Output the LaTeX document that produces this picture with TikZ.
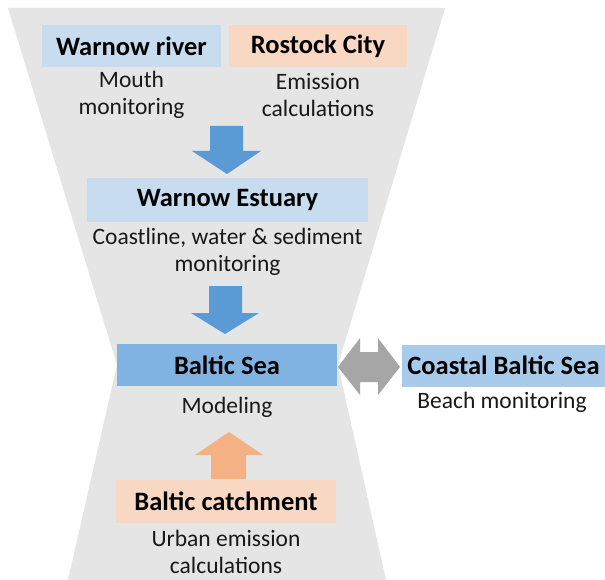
\documentclass[tikz,border=0pt]{standalone}
\usepackage{fontspec}
\setmainfont{Carlito}
\begin{document}
\begin{tikzpicture}[x=1pt,y=-1pt,
  box/.style={rectangle, inner sep=0pt, minimum height=42pt, text=black,
    font=\fontsize{26.5}{30}\selectfont\bfseries},
  note/.style={align=center, inner sep=0pt, text=black!90,
    font=\fontsize{23.5}{27.5}\selectfont},
  blockblue/.style={fill=arrowblue},
  blockorange/.style={fill=arroworange},
  blockgray/.style={fill=arrowgray}]
\definecolor{hourglass}{HTML}{E5E5E5}
\definecolor{paleblue}{HTML}{C8DCF0}
\definecolor{midblue}{HTML}{80B3E2}
\definecolor{coastblue}{HTML}{A9CBEB}
\definecolor{paleorange}{HTML}{F8D7C3}
\definecolor{arrowblue}{HTML}{5B9BD5}
\definecolor{arroworange}{HTML}{F4B183}
\definecolor{arrowgray}{HTML}{A6A6A6}

\useasboundingbox (0,0) rectangle (605,580);
\fill[white] (0,0) rectangle (605,580);

% hourglass background
\fill[hourglass] (8,8) -- (445,8) -- (338,365) -- (386,580) -- (68,580) -- (117,365) -- cycle;

% source boxes
\node[box, fill=paleblue, minimum width=179pt] (river) at (131.5,46) {Warnow river};
\node[box, fill=paleorange, minimum width=178pt] (city) at (318,46) {Rostock City};
\node[note] (rivernote) at (131.5,95) {Mouth\\monitoring};
\node[note] (citynote) at (318,95) {Emission\\calculations};

% estuary
\node[box, fill=paleblue, minimum width=281pt, minimum height=44pt] (estuary) at (227.5,200) {Warnow Estuary};
\node[note] (estuarynote) at (227.5,252) {Coastline, water \& sediment\\monitoring};

% Baltic Sea
\node[box, fill=midblue, minimum width=220pt] (baltic) at (227,365) {Baltic Sea};
\node[note] (balticnote) at (227,407) {Modeling};

% coastal Baltic Sea
\node[box, fill=coastblue, minimum width=203pt] (coastal) at (503.5,365.5) {Coastal Baltic Sea};
\node[note] (coastalnote) at (502,402) {Beach monitoring};

% catchment
\node[box, fill=paleorange, minimum width=220pt, minimum height=43pt] (catchment) at (226,501.5) {Baltic catchment};
\node[note] (catchmentnote) at (226,552) {Urban emission\\calculations};

% block arrows
\fill[blockblue] (210,126) -- (243,126) -- (243,151) -- (261,151) -- (227,174)
  -- (192,151) -- (210,151) -- cycle;
\fill[blockblue] (209,286) -- (242,286) -- (242,313) -- (259,313) -- (225,334)
  -- (191,313) -- (209,313) -- cycle;
\fill[blockorange] (211,479) -- (246,479) -- (246,455) -- (263,455) -- (229,432)
  -- (195,455) -- (211,455) -- cycle;
\fill[blockgray] (338,367) -- (360,338) -- (360,352) -- (378,352) -- (378,338)
  -- (400,367) -- (378,395) -- (378,382) -- (360,382) -- (360,395) -- cycle;
\end{tikzpicture}
\end{document}
